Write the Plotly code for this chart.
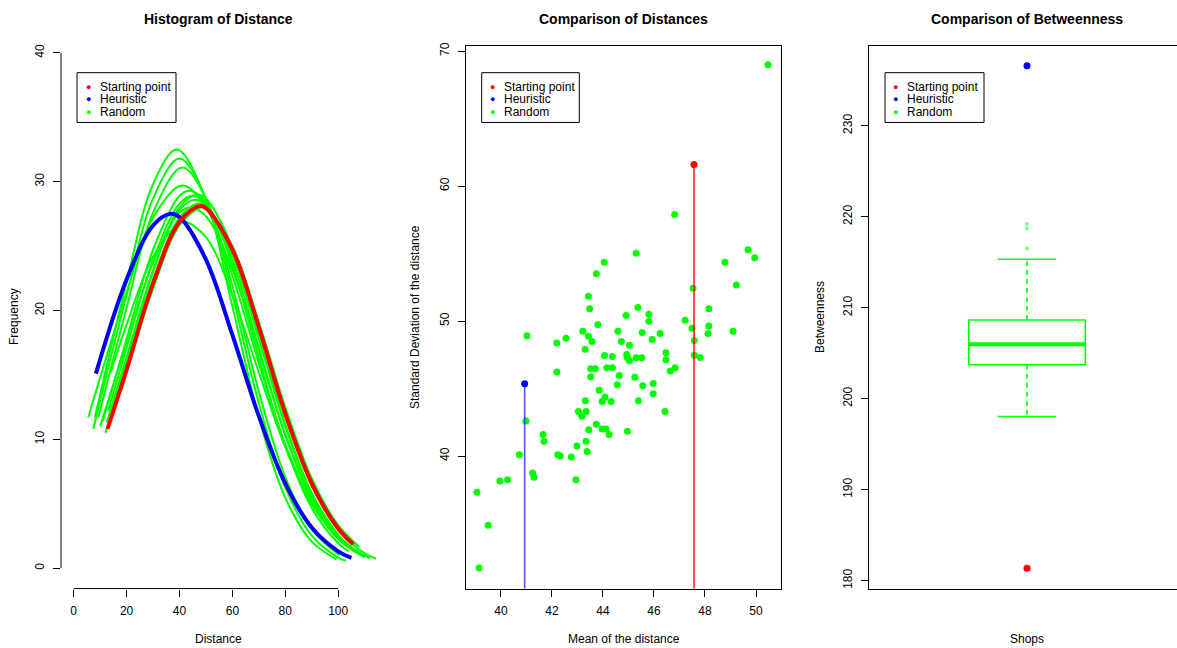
import plotly.graph_objects as go

W, H = 1177, 648
FONT = "Arial, 'Liberation Sans', sans-serif"

# ---------------- Panel 1: fitted distance curves ----------------
RED_CURVE_X = [12.8, 20, 30, 40, 47.4, 50, 60, 70, 80, 90, 100, 105.7]
RED_CURVE_Y = [10.8, 15.4, 22.1, 26.9, 28.1, 27.95, 24.75, 18.7, 12.0, 6.58, 3.07, 1.85]
BLUE_CURVE_X = [8.4, 20, 30, 36.5, 40, 50, 60, 70, 80, 90, 100, 105.0]
BLUE_CURVE_Y = [15.1, 22.4, 26.6, 27.5, 27.25, 23.95, 18.1, 11.8, 6.57, 3.15, 1.30, 0.79]
GREEN_CURVES_X = [
    [8.0, 20, 30, 39, 50, 60, 70, 80, 90, 99.4],
    [7.4, 20, 30, 40, 50, 60, 70, 80, 90, 100, 103],
    [9.3, 20, 30, 41, 50, 60, 70, 80, 90, 100.5],
    [5.5, 20, 30, 41, 50, 60, 70, 80, 90, 100, 107.6],
    [11, 20, 30, 40, 44, 50, 60, 70, 80, 90, 100, 104],
    [13, 20, 30, 40, 45, 50, 60, 70, 80, 90, 100, 110],
    [12.5, 20, 30, 40, 46, 50, 60, 70, 80, 90, 100, 106],
    [12, 20, 30, 40, 47, 50, 60, 70, 80, 90, 100, 110, 114.5],
    [18.1, 30, 40, 48, 50, 60, 70, 80, 90, 100, 108],
    [14, 20, 30, 40, 42, 50, 60, 70, 80, 90, 101],
    [10, 20, 30, 40, 44.5, 50, 60, 70, 80, 90, 100, 110, 112],
    [14, 20, 30, 40, 46.5, 50, 60, 70, 80, 90, 100, 103],
]
GREEN_CURVES_Y = [
    [11.7, 22.2, 29.8, 32.5, 28.6, 20.3, 11.7, 5.45, 2.05, 0.68],
    [10.8, 21.2, 28.7, 31.8, 28.7, 21.2, 12.8, 6.27, 2.52, 0.82, 0.57],
    [11.7, 20.2, 27.6, 31.1, 28.7, 21.9, 13.7, 7.06, 3.0, 1.0],
    [11.7, 21.4, 27.2, 29.7, 28.0, 22.7, 15.9, 9.6, 5.0, 2.26, 1.12],
    [11.4, 17.8, 24.7, 28.9, 29.3, 28.4, 23.5, 16.3, 9.5, 4.67, 1.93, 1.29],
    [12.2, 17.1, 23.9, 28.3, 28.9, 28.3, 23.9, 17.1, 10.3, 5.27, 2.28, 0.83],
    [11.3, 16.4, 23.1, 27.8, 28.6, 28.2, 24.3, 17.8, 11.0, 5.77, 2.57, 1.46],
    [10.5, 15.7, 22.4, 27.2, 28.3, 28.1, 24.7, 18.5, 11.8, 6.37, 2.94, 1.15, 0.72],
    [13.8, 21.7, 26.6, 28.0, 27.9, 25.0, 19.1, 12.5, 6.98, 3.33, 1.64],
    [15.2, 18.9, 24.2, 26.8, 26.9, 25.7, 21.2, 15.2, 9.4, 5.02, 2.13],
    [11.0, 17.5, 23.7, 27.6, 28.0, 27.3, 23.2, 16.8, 10.4, 5.49, 2.48, 0.96, 0.77],
    [11.9, 16.0, 23.0, 28.0, 29.0, 28.7, 24.9, 18.2, 11.2, 5.84, 2.57, 1.94],
]
P1_XTICKS = [0, 20, 40, 60, 80, 100]
P1_YTICKS = [0, 10, 20, 30, 40]

# ---------------- Panel 2: mean vs sd of distance ----------------
RAND_MEAN = [50.47, 46.81, 45.30, 44.05, 43.74, 43.43, 43.48, 43.80, 43.21, 44.59,
             44.91, 45.37, 45.80, 45.80, 47.22, 47.53, 47.49, 48.15, 48.15, 48.78,
             49.23, 49.69, 49.95, 49.10, 41.02, 42.19, 42.55, 43.43, 43.57, 43.30,
             42.19, 44.72, 45.04, 44.06, 44.37, 44.93, 44.96, 45.04, 45.30, 45.52,
             45.54, 45.93, 46.24, 47.58, 47.58, 47.81, 48.12, 46.47, 46.47, 46.64,
             46.83, 43.52, 43.70, 43.52, 44.15, 44.37, 44.64, 45.25, 44.56, 43.85,
             44.08, 43.97, 44.32, 43.31, 45.56, 45.97, 45.97, 45.39, 46.43, 43.04,
             43.34, 43.17, 43.74, 43.44, 43.97, 44.12, 44.24, 44.96, 40.98, 41.65,
             41.69, 43.34, 42.98, 43.38, 42.23, 42.33, 42.76, 40.72, 41.24, 41.30,
             39.96, 40.26, 42.94, 39.06, 39.50, 39.14]
RAND_SD = [68.98, 57.90, 55.02, 54.35, 53.50, 51.84, 50.90, 49.74, 49.25, 49.25,
           50.41, 51.00, 50.50, 49.98, 50.06, 52.42, 49.47, 50.90, 49.64, 54.36,
           52.66, 55.28, 54.69, 49.25, 48.90, 48.38, 48.73, 48.88, 48.49, 47.90,
           46.22, 48.49, 48.21, 47.45, 47.38, 47.52, 47.28, 47.05, 47.28, 47.28,
           49.15, 48.63, 49.07, 48.56, 47.47, 47.30, 49.07, 47.65, 47.13, 46.30,
           46.54, 46.47, 46.47, 45.87, 46.54, 46.54, 45.97, 45.83, 45.28, 44.87,
           44.37, 44.03, 44.03, 44.10, 45.21, 45.38, 44.62, 44.10, 43.29, 43.29,
           43.29, 42.95, 42.36, 41.94, 42.01, 42.01, 41.59, 41.84, 42.60, 41.59,
           41.10, 41.10, 40.75, 40.34, 40.10, 40.00, 39.92, 40.10, 38.74, 38.42,
           38.15, 38.24, 38.24, 37.31, 34.87, 31.70]
START_MEAN, START_SD = [47.57], [61.6]
HEUR_MEAN, HEUR_SD = [40.93], [45.36]
P2_XTICKS = [40, 42, 44, 46, 48, 50]
P2_YTICKS = [40, 50, 60, 70]

# ---------------- Panel 3: betweenness boxplot ----------------
BOX_STATS = {"lower": 198.03, "q1": 203.73, "median": 205.98, "q3": 208.65, "upper": 215.33}
BOX_OUTLIERS = [216.5, 218.7, 219.2]
START_BETW = [181.35]
HEUR_BETW = [236.6]
P3_YTICKS = [180, 190, 200, 210, 220, 230]

RED, BLUE, GREEN = "#ff0000", "#0000ff", "#00ff00"


def px(x):
    return x / W


def py(y):
    return 1 - y / H


fig = go.Figure()

# Panel 1 curves
for cx, cy in zip(GREEN_CURVES_X, GREEN_CURVES_Y):
    fig.add_trace(go.Scatter(x=cx, y=cy, mode="lines", line=dict(color=GREEN, width=2, shape="spline", smoothing=1.0),
                             xaxis="x", yaxis="y", hoverinfo="skip"))
fig.add_trace(go.Scatter(x=BLUE_CURVE_X, y=BLUE_CURVE_Y, mode="lines",
                         line=dict(color=BLUE, width=4, shape="spline", smoothing=1.0), xaxis="x", yaxis="y"))
fig.add_trace(go.Scatter(x=RED_CURVE_X, y=RED_CURVE_Y, mode="lines",
                         line=dict(color=RED, width=4, shape="spline", smoothing=1.0), xaxis="x", yaxis="y"))

# Panel 2 scatter
fig.add_trace(go.Scatter(x=RAND_MEAN, y=RAND_SD, mode="markers", marker=dict(color=GREEN, size=7),
                         xaxis="x2", yaxis="y2"))
fig.add_trace(go.Scatter(x=[HEUR_MEAN[0], HEUR_MEAN[0]], y=[0, HEUR_SD[0]], mode="lines",
                         line=dict(color="rgba(40,40,255,0.8)", width=1.6), xaxis="x2", yaxis="y2"))
fig.add_trace(go.Scatter(x=[START_MEAN[0], START_MEAN[0]], y=[0, START_SD[0]], mode="lines",
                         line=dict(color=RED, width=1.4), xaxis="x2", yaxis="y2"))
fig.add_trace(go.Scatter(x=HEUR_MEAN, y=HEUR_SD, mode="markers", marker=dict(color=BLUE, size=7),
                         xaxis="x2", yaxis="y2"))
fig.add_trace(go.Scatter(x=START_MEAN, y=START_SD, mode="markers", marker=dict(color=RED, size=7),
                         xaxis="x2", yaxis="y2"))

# Panel 3 box plot drawn from the statistics
BOX_X, BOX_HALF, CAP_HALF = 1.0, 0.2, 0.1
s = BOX_STATS
fig.add_trace(go.Scatter(
    x=[BOX_X - BOX_HALF, BOX_X + BOX_HALF, BOX_X + BOX_HALF, BOX_X - BOX_HALF, BOX_X - BOX_HALF],
    y=[s["q1"], s["q1"], s["q3"], s["q3"], s["q1"]], mode="lines",
    line=dict(color=GREEN, width=1.6), xaxis="x3", yaxis="y3"))
fig.add_trace(go.Scatter(x=[BOX_X - BOX_HALF, BOX_X + BOX_HALF], y=[s["median"], s["median"]], mode="lines",
                         line=dict(color=GREEN, width=4), xaxis="x3", yaxis="y3"))
for a, b in ((s["q3"], s["upper"]), (s["q1"], s["lower"])):
    fig.add_trace(go.Scatter(x=[BOX_X, BOX_X], y=[a, b], mode="lines",
                             line=dict(color=GREEN, width=1.6, dash="5px,4px"), xaxis="x3", yaxis="y3"))
for v in (s["upper"], s["lower"]):
    fig.add_trace(go.Scatter(x=[BOX_X - CAP_HALF, BOX_X + CAP_HALF], y=[v, v], mode="lines",
                             line=dict(color=GREEN, width=1.6), xaxis="x3", yaxis="y3"))
fig.add_trace(go.Scatter(x=[BOX_X] * len(BOX_OUTLIERS), y=BOX_OUTLIERS, mode="markers",
                         marker=dict(color="#7dff7d", size=4), xaxis="x3", yaxis="y3"))
fig.add_trace(go.Scatter(x=[BOX_X], y=HEUR_BETW, mode="markers", marker=dict(color=BLUE, size=7),
                         xaxis="x3", yaxis="y3"))
fig.add_trace(go.Scatter(x=[BOX_X], y=START_BETW, mode="markers", marker=dict(color=RED, size=7),
                         xaxis="x3", yaxis="y3"))

TOP, BOTTOM = 42.7, 588.3
ydom = [py(BOTTOM), py(TOP)]
tickfont = dict(family=FONT, size=12, color="#000")
common_ax = dict(showgrid=False, zeroline=False, ticks="outside", ticklen=7, tickcolor="#000",
                 tickwidth=1, tickfont=tickfont, linecolor="#000", linewidth=1, ticklabelstandoff=4)

fig.update_layout(
    width=W, height=H, margin=dict(l=0, r=0, t=0, b=0),
    paper_bgcolor="white", plot_bgcolor="white", showlegend=False,
    font=dict(family=FONT, size=12, color="#000"),
    xaxis=dict(domain=[px(61), px(376)], range=[-4.8, 114.3], tickvals=P1_XTICKS, showline=False,
               anchor="y", **common_ax),
    yaxis=dict(domain=ydom, range=[-1.59, 40.57], tickvals=P1_YTICKS, tickangle=-90, showline=False,
               anchor="x", **common_ax),
    xaxis2=dict(domain=[px(466), px(781)], range=[38.63, 50.98], tickvals=P2_XTICKS, showline=True,
                mirror=True, anchor="y2", **common_ax),
    yaxis2=dict(domain=ydom, range=[30.18, 70.41], tickvals=P2_YTICKS, tickangle=-90, showline=True,
                mirror=True, anchor="x2", **common_ax),
    xaxis3=dict(domain=[px(869), 1.0], range=[0.4582, 1.5143], showticklabels=False, showline=True,
                mirror=True, anchor="y3", showgrid=False, zeroline=False, ticks="", linecolor="#000", linewidth=1),
    yaxis3=dict(domain=ydom, range=[179.12, 238.82], tickvals=P3_YTICKS, tickangle=-90, showline=True,
                mirror=False, anchor="x3", **common_ax),
)

shapes = [
    # R-style axis lines for panel 1 spanning only the tick range
    dict(type="line", xref="x", yref="paper", x0=P1_XTICKS[0], x1=P1_XTICKS[-1], y0=py(BOTTOM), y1=py(BOTTOM),
         line=dict(color="#000", width=1)),
    dict(type="line", xref="paper", yref="y", x0=px(61), x1=px(61), y0=P1_YTICKS[0], y1=P1_YTICKS[-1],
         line=dict(color="#000", width=1)),
]
annotations = []

LEG_LABELS = ["Starting point", "Heuristic", "Random"]
LEG_COLORS = [RED, BLUE, GREEN]
LEG_ROWS = [84, 96.7, 109.3]
for (bx0, bx1, dotx, textx) in [(77, 176, 88.5, 98), (481.7, 579.3, 492.3, 502.3), (885, 984, 895.3, 905.3)]:
    shapes.append(dict(type="rect", xref="paper", yref="paper", x0=px(bx0), x1=px(bx1), y0=py(120), y1=py(70),
                       line=dict(color="#000", width=1), fillcolor="white", layer="above"))
    for lab, col, ry in zip(LEG_LABELS, LEG_COLORS, LEG_ROWS):
        annotations.append(dict(xref="paper", yref="paper", x=px(dotx), y=py(ry), text="●", showarrow=False,
                                xanchor="center", yanchor="middle", font=dict(color=col, size=9, family=FONT)))
        annotations.append(dict(xref="paper", yref="paper", x=px(textx), y=py(ry), text=lab, showarrow=False,
                                xanchor="left", yanchor="middle", font=dict(color="#000", size=12, family=FONT)))

for txt, cx in [("Histogram of Distance", 218.5), ("Comparison of Distances", 623.5),
                ("Comparison of Betweenness", 1027)]:
    annotations.append(dict(xref="paper", yref="paper", x=px(cx), y=py(16), text="<b>" + txt + "</b>",
                            showarrow=False, xanchor="center", yanchor="middle",
                            font=dict(size=14, family=FONT, color="#000")))

for txt, cx in [("Distance", 218.5), ("Mean of the distance", 623.5), ("Shops", 1027)]:
    annotations.append(dict(xref="paper", yref="paper", x=px(cx), y=py(639), text=txt, showarrow=False,
                            xanchor="center", yanchor="middle", font=dict(size=12, family=FONT, color="#000")))

for txt, cx in [("Frequency", 14), ("Standard Deviation of the distance", 415), ("Betweenness", 820)]:
    annotations.append(dict(xref="paper", yref="paper", x=px(cx), y=py((TOP + BOTTOM) / 2), text=txt,
                            showarrow=False, textangle=-90, xanchor="center", yanchor="middle",
                            font=dict(size=12, family=FONT, color="#000")))

fig.update_layout(shapes=shapes, annotations=annotations)
fig.write_html("out.html", config={"displayModeBar": False})

# remove the browser's default page margin so the figure sits at the window's top-left corner
with open("out.html", "r", encoding="utf-8") as fh:
    page = fh.read()
page = page.replace("<head>", "<head><style>html,body{margin:0;padding:0;overflow:hidden;}</style>", 1)
with open("out.html", "w", encoding="utf-8") as fh:
    fh.write(page)
